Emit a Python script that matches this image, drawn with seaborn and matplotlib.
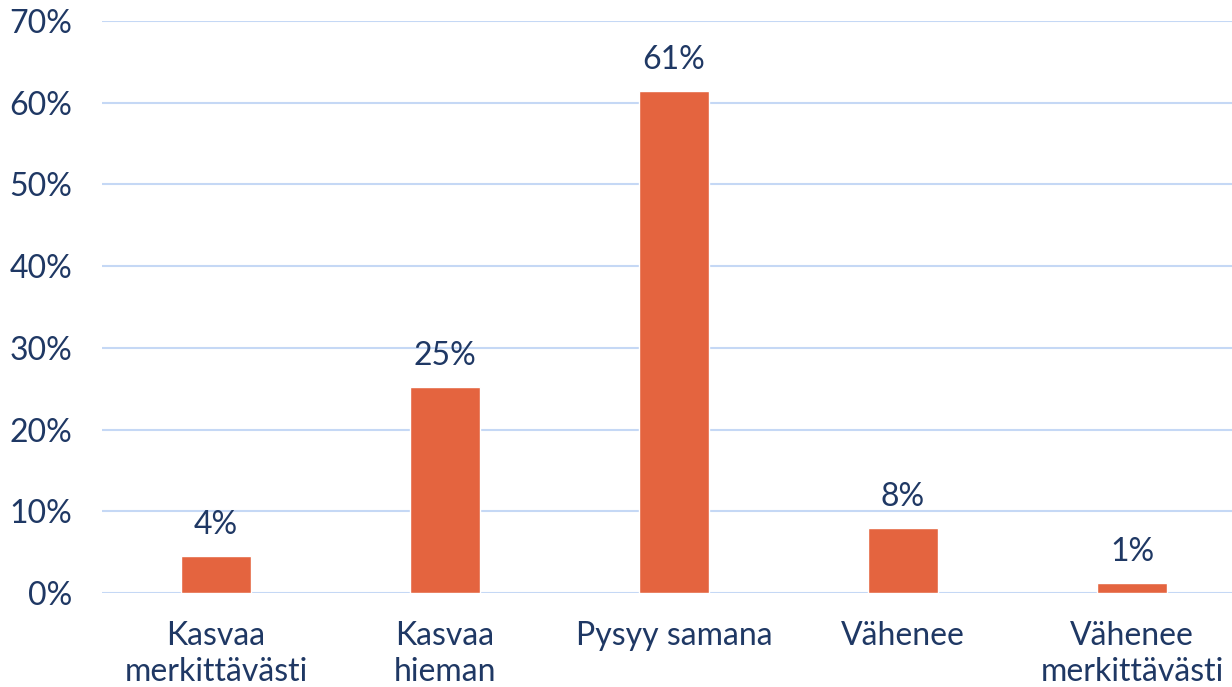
import matplotlib
matplotlib.use("Agg")
import matplotlib.pyplot as plt
import seaborn as sns
import pandas as pd

categories = ["Kasvaa\nmerkittävästi", "Kasvaa\nhieman", "Pysyy samana", "Vähenee", "Vähenee\nmerkittävästi"]
values = [4.5, 25.2, 61.4, 7.9, 1.2]
y_ticks = [0, 10, 20, 30, 40, 50, 60, 70]

text_color = "#1F3864"
bar_color = "#E4643F"
grid_color = "#C5D8F5"

sns.set_theme(style="white")
plt.rcParams["font.family"] = ["Lato", "DejaVu Sans"]

df = pd.DataFrame({"cat": categories, "val": values})

fig = plt.figure(figsize=(12.32, 6.87), dpi=100)
ax = fig.add_axes([101.5 / 1232, 94 / 687, 1145 / 1232, 572 / 687])

sns.barplot(data=df, x="cat", y="val", color=bar_color, width=0.31, saturation=1, ax=ax, zorder=3)

for i, v in enumerate(values):
    ax.text(i, v + 2.0, f"{round(v)}%", ha="center", va="bottom", fontsize=23, color=text_color)

ax.set_ylim(0, 70)
ax.set_xlim(-0.5, 4.5)
ax.set_yticks(y_ticks)
ax.set_yticklabels([f"{t}%" for t in y_ticks])
ax.yaxis.grid(True, color=grid_color, linewidth=1.5, zorder=0)
ax.xaxis.grid(False)
for s in ax.spines.values():
    s.set_visible(False)
ax.tick_params(axis="y", length=0, pad=21, labelsize=23, labelcolor=text_color)
ax.tick_params(axis="x", length=0, pad=20, labelsize=23, labelcolor=text_color)
for lbl in ax.get_xticklabels():
    lbl.set_linespacing(1.25)
ax.set_xlabel("")
ax.set_ylabel("")

fig.savefig("out.png", dpi=100)
